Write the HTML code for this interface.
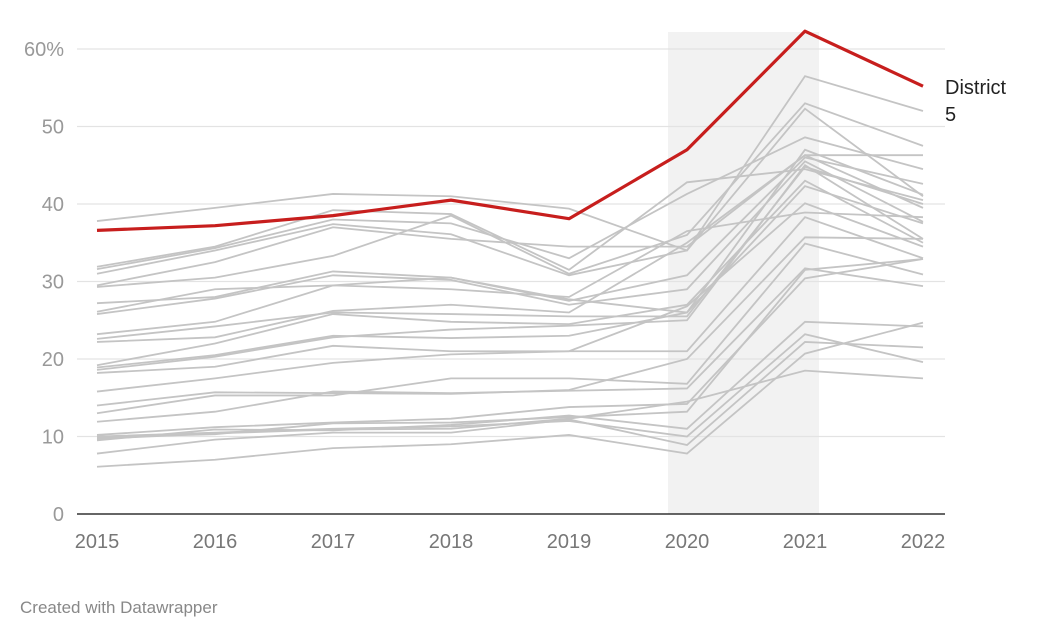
<!DOCTYPE html>
<html><head><meta charset="utf-8"><style>
body{margin:0;background:#fff;font-family:"Liberation Sans",sans-serif;}
svg{display:block}
</style></head><body>
<svg width="1040" height="640">
<g id="shade"></g><g id="grid"></g><g id="lines"></g><g id="labels"></g>
<text x="20" y="613" font-size="17" fill="#888">Created with Datawrapper</text>
</svg>
<script>
const years=[2015,2016,2017,2018,2019,2020,2021,2022];
const yTicks=[0,10,20,30,40,50,60];
const yTickLabels=["0","10","20","30","40","50","60%"];
const highlight=[36.6,37.2,38.5,40.5,38.1,47,62.3,55.2];
const highlightName="District 5";
const s01=[37.8,39.5,41.3,41.0,39.4,34.0,52.3,41.0];
const s02=[31.9,34.5,39.2,38.7,31.5,42.8,44.5,40.5];
const s03=[31.6,34.3,38.0,37.5,33.0,41.3,48.6,44.5];
const s04=[31.0,34.0,37.4,36.1,30.8,34.0,56.5,52.0];
const s05=[29.5,32.5,37.0,35.5,34.5,34.5,46.3,46.3];
const s06=[29.3,30.5,33.3,38.5,31.0,36.0,53.0,47.5];
const s07=[27.2,28.0,31.3,30.5,27.5,30.8,46.0,42.6];
const s08=[26.1,29.0,29.5,29.0,28.0,36.5,38.9,38.3];
const s09=[25.8,27.8,30.8,30.2,27.0,29.0,45.5,37.7];
const s10=[23.2,24.8,29.5,30.5,27.7,26.0,47.0,41.2];
const s11=[22.6,24.2,26.0,25.8,25.5,25.5,44.8,40.0];
const s12=[22.2,22.8,26.2,27.0,26.0,35.0,46.3,39.5];
const s13=[19.2,22.0,25.8,24.8,24.5,27.0,43.0,35.0];
const s14=[18.9,20.5,23.0,22.7,23.0,26.0,42.3,37.5];
const s15=[18.6,20.3,22.8,23.8,24.3,25.0,45.0,35.5];
const s16=[18.2,19.0,21.7,21.0,21.0,26.8,40.1,34.5];
const s17=[15.8,17.5,19.5,20.6,21.0,21.0,38.3,33.0];
const s18=[14.0,15.7,15.6,15.5,16.0,20.0,35.7,35.5];
const s19=[13.0,15.3,15.3,17.5,17.5,16.8,34.9,30.9];
const s20=[11.9,13.2,15.8,15.6,15.9,16.2,31.7,29.4];
const s21=[10.2,11.2,11.8,12.3,13.8,14.2,30.4,32.9];
const s22=[9.9,10.3,11.7,11.8,12.5,13.2,31.5,32.9];
const s23=[9.5,10.9,10.8,11.5,12.7,11.0,24.8,24.2];
const s24=[7.8,9.6,10.5,10.5,12.2,8.9,22.2,21.5];
const s25=[6.1,7.0,8.5,9.0,10.2,7.8,20.7,24.7];
const s26=[10.0,10.5,11.0,11.3,12.0,10.0,23.2,19.6];
const s27=[9.7,10.4,10.9,11.0,12.3,14.5,18.5,17.5];
const others=[s01,s02,s03,s04,s05,s06,s07,s08,s09,s10,s11,s12,s13,s14,s15,s16,s17,s18,s19,s20,s21,s22,s23,s24,s25,s26,s27];
const NS="http://www.w3.org/2000/svg";
const X=i=>97+i*(923-97)/(years.length-1);
const Y=v=>514-v*(514-49)/60;
function mk(t,a,p){const e=document.createElementNS(NS,t);for(const k in a)e.setAttribute(k,a[k]);p.appendChild(e);return e;}
const step=(923-97)/(years.length-1);
const sh=mk("rect",{x:X(5)-19,y:32,width:step+33,height:482,fill:"#f2f2f2"},document.getElementById("shade"));


const g=document.getElementById("grid"),lb=document.getElementById("labels");
yTicks.forEach((t,i)=>{
 const l=mk("line",{x1:77,x2:945,y1:Y(t),y2:Y(t),stroke:t===0?"#333":"#e3e3e3","stroke-width":t===0?1.5:1.2},g);
 
 
 const tx=mk("text",{x:64,y:Y(t)+7,"text-anchor":"end","font-size":20,fill:"#999"},lb);
 tx.textContent=yTickLabels[i];
 
 
});
years.forEach((yr,i)=>{
 const tx=mk("text",{x:X(i),y:548,"text-anchor":"middle","font-size":20,fill:"#777"},lb);
 tx.textContent=yr;
 
 
});
const L=document.getElementById("lines");
const pts=a=>a.map((v,i)=>X(i)+","+Y(v)).join(" ");
others.forEach(a=>{
 const p=mk("polyline",{points:pts(a),fill:"none",stroke:"#c4c4c4","stroke-width":1.8},L);
 
 
});
const hp=mk("polyline",{points:pts(highlight),fill:"none",stroke:"#c71e1d","stroke-width":3.2,"stroke-linejoin":"round"},L);


const lab=mk("text",{x:945,y:94,"font-size":20,fill:"#222"},lb);


const parts=highlightName.split(" ");
parts.forEach((w,i)=>{const ts=mk("tspan",{x:945,dy:i?27:0},lab);ts.textContent=w;});
</script>
</body></html>
